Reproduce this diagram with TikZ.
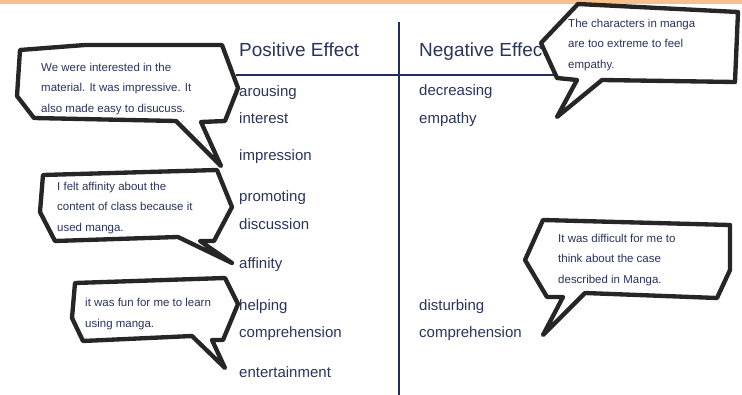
\documentclass[tikz,border=0pt]{standalone}
\usepackage{fontspec}
\setmainfont{Liberation Sans}
\definecolor{navy}{RGB}{31,46,92}
\definecolor{inktext}{RGB}{40,52,90}
\definecolor{barorange}{RGB}{250,192,140}

\begin{document}
\begin{tikzpicture}[
    x=0.03cm, y=-0.03cm,
    every node/.style={text=inktext, inner sep=0pt},
    head/.style={anchor=west, font=\fontsize{16.2}{18}\selectfont, text height=1.6ex, text depth=0.3ex},
    item/.style={anchor=west, font=\fontsize{12.8}{14}\selectfont, text height=1.5ex, text depth=0.3ex},
    bubble/.style={fill=white, draw=black!85, line width=3.7pt, line join=round},
    bubtext/.style={anchor=west, align=left, font=\fontsize{9.8}{17.8}\selectfont}
]

% Page frame
\useasboundingbox (0,0) rectangle (742,395);
\fill[barorange] (0,0) rectangle (742,4);

% === Table axes ===
\draw[navy, line width=2.5pt] (399,22) -- (399,395);
\draw[navy, line width=2.5pt] (236,75) -- (565,75);

% === Column heads ===
\node[head] (poshead) at (239,52) {Positive Effect};
\node[head] (neghead) at (419,52) {Negative Effect};

% === Effects ===
\foreach \name/\txt/\yy in {arous/arousing/93, inter/interest/120,
    impr/impression/157, prom/promoting/198, disc/discussion/226,
    affin/affinity/265, help/helping/307, compr/comprehension/334,
    enter/entertainment/374} {
    \node[item] (\name) at (239,\yy) {\txt};
}
\foreach \name/\txt/\yy in {decr/decreasing/92, empa/empathy/120,
    dist/disturbing/307, ncompr/comprehension/334} {
    \node[item] (\name) at (419,\yy) {\txt};
}

% === Speech bubbles (tails point at the effect) ===
% interest / impression / discussion
\draw[bubble] (20,50) -- (85,45) -- (222,45) -- (238,88) -- (225,121)
    -- (201,122) -- (221,166) -- (176,121) -- (34,118) -- (17,96) -- cycle;
\node[bubtext] (saya) at (41,89) {We were interested in the\\
    material. It was impressive. It\\also made easy to disucuss.};

% empathy
\draw[bubble] (578,4) -- (738,12) -- (735,82) -- (602,80) -- (557,117)
    -- (577,80) -- (557,78) -- (541,43) -- cycle;
\node[bubtext] (sayb) at (568,45) {The characters in manga\\
    are too extreme to feel\\empathy.};

% affinity
\draw[bubble] (43,175) -- (217,170) -- (232,207) -- (214,241) -- (200,241)
    -- (232,263) -- (178,237) -- (55,241) -- (40,212) -- cycle;
\node[bubtext] (sayc) at (57,208) {I felt affinity about the\\
    content of class because it\\used manga.};

% disturbing comprehension
\draw[bubble] (543,220) -- (730,225) -- (730,270) -- (717,298) -- (585,293)
    -- (543,335) -- (563,297) -- (547,297) -- (525,260) -- cycle;
\node[bubtext] (sayd) at (558,260) {It was difficult for me to\\
    think about the case\\described in Manga.};

% entertainment
\draw[bubble] (75,283) -- (225,278) -- (238,304) -- (223,340) -- (212,340)
    -- (225,368) -- (192,336) -- (83,341) -- (72,318) -- cycle;
\node[bubtext] (saye) at (85,314) {it was fun for me to learn\\using manga.};

\end{tikzpicture}
\end{document}
